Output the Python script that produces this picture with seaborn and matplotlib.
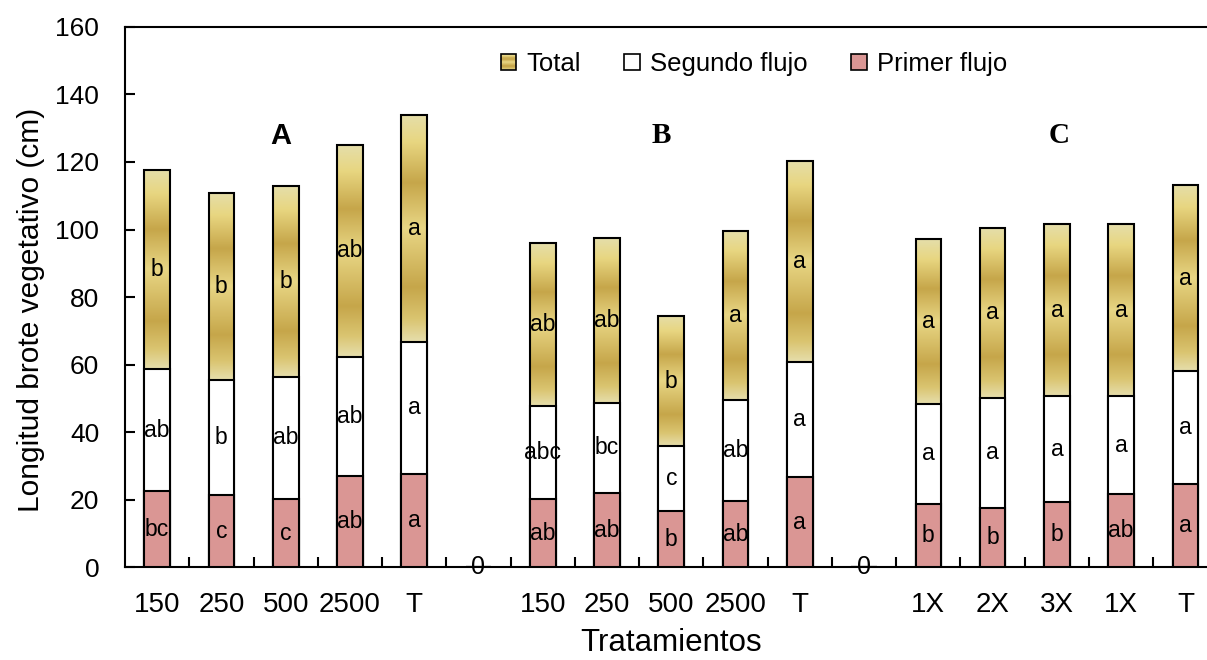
import numpy as np
import pandas as pd
import matplotlib
matplotlib.use("Agg")
import matplotlib.pyplot as plt
import seaborn as sns
from matplotlib.colors import LinearSegmentedColormap
from matplotlib.patches import Rectangle
from matplotlib.legend_handler import HandlerBase

# Tratamientos (las posiciones vacías separan los tres ensayos)
tratamientos = ["150", "250", "500", "2500", "T", "",
                "150", "250", "500", "2500", "T", "",
                "1X", "2X", "3X", "1X", "T"]
primer_flujo = [22.7, 21.5, 20.3, 27.2, 27.7, 0,
                20.3, 22.1, 16.8, 19.6, 26.7, 0,
                18.9, 17.6, 19.3, 21.6, 24.6]
segundo_flujo = [35.9, 33.9, 36.2, 35.1, 39.0, 0,
                 27.6, 26.7, 19.0, 30.0, 34.2, 0,
                 29.6, 32.6, 31.4, 29.1, 33.4]
total = [59.0, 55.4, 56.3, 62.7, 67.3, 0,
         48.0, 48.7, 38.6, 50.1, 59.5, 0,
         48.6, 50.3, 50.8, 50.8, 55.3]
letras_primer = ["bc", "c", "c", "ab", "a", "",
                 "ab", "ab", "b", "ab", "a", "",
                 "b", "b", "b", "ab", "a"]
letras_segundo = ["ab", "b", "ab", "ab", "a", "",
                  "abc", "bc", "c", "ab", "a", "",
                  "a", "a", "a", "a", "a"]
letras_total = ["b", "b", "b", "ab", "a", "",
                "ab", "ab", "b", "a", "a", "",
                "a", "a", "a", "a", "a"]
ensayos = ["A", "B", "C"]

plt.rcParams["font.family"] = ["Liberation Sans", "DejaVu Sans"]

df = pd.DataFrame({
    "pos": np.arange(len(tratamientos)),
    "primer": primer_flujo,
    "segundo": segundo_flujo,
    "total": total,
})
df["tope_segundo"] = df["primer"] + df["segundo"]
df["tope_total"] = df["tope_segundo"] + df["total"]

ROSA = "#DA9694"
ORO = "#D4BC6A"
LW = 1.5
FS_LETRA = 16.5

oro_cmap = LinearSegmentedColormap.from_list("oro", [
    (0.00, (0.898, 0.871, 0.667)),
    (0.12, (0.910, 0.840, 0.505)),
    (0.30, (0.776, 0.651, 0.290)),
    (0.50, (0.910, 0.840, 0.520)),
    (0.76, (0.776, 0.651, 0.290)),
    (0.90, (0.855, 0.770, 0.440)),
    (1.00, (0.902, 0.871, 0.675)),
])

fig = plt.figure(figsize=(12.07, 6.6), dpi=100)
ax = fig.add_axes([0.10356, 0.1402, 0.9052, 0.8193])

bar_kw = dict(x="pos", width=0.4, edgecolor="black", linewidth=LW,
              saturation=1, errorbar=None, ax=ax)

# Barra completa (segmento Total encima)
n0 = len(ax.patches)
sns.barplot(data=df, y="tope_total", color=ORO, zorder=2, **bar_kw)
barras_total = ax.patches[n0:]

# Segundo flujo y primer flujo encima
sns.barplot(data=df, y="tope_segundo", color="white", zorder=3, **bar_kw)
sns.barplot(data=df, y="primer", color=ROSA, zorder=4, **bar_kw)

# Degradado dorado del segmento Total
grad = np.linspace(0, 1, 256).reshape(-1, 1)
for i, p in enumerate(barras_total):
    if p.get_height() <= 0:
        continue
    x0, w = p.get_x(), p.get_width()
    y0, y1 = df["tope_segundo"][i], df["tope_total"][i]
    im = ax.imshow(grad, extent=(x0, x0 + w, y0, y1), origin="upper",
                   aspect="auto", cmap=oro_cmap, zorder=1.9,
                   interpolation="bilinear")
    im.set_clip_path(p)
    p.set_facecolor("none")

# Letras de significancia en cada segmento
for i in range(len(tratamientos)):
    if df["tope_total"][i] == 0:
        ax.text(i, 0, "0", ha="center", va="center", fontsize=18, zorder=6)
        continue
    p, s2, t2 = df["primer"][i], df["tope_segundo"][i], df["tope_total"][i]
    ax.text(i, p / 2, letras_primer[i], ha="center", va="center", fontsize=FS_LETRA, zorder=6)
    ax.text(i, (p + s2) / 2, letras_segundo[i], ha="center", va="center", fontsize=FS_LETRA, zorder=6)
    ax.text(i, (s2 + t2) / 2, letras_total[i], ha="center", va="center", fontsize=FS_LETRA, zorder=6)

# Nombres de los ensayos
ax.text(1.92, 127.8, ensayos[0], ha="center", va="center", fontsize=21,
        fontweight="bold", family="Liberation Sans", zorder=6)
ax.text(7.84, 127.8, ensayos[1], ha="center", va="center", fontsize=21,
        fontweight="bold", family="Liberation Serif", zorder=6)
ax.text(14.04, 127.8, ensayos[2], ha="center", va="center", fontsize=21,
        fontweight="bold", family="Liberation Serif", zorder=6)

ax.set_xlim(-0.5, len(tratamientos) - 0.5)
ax.set_ylim(0, 160)

ax.set_xticks(np.arange(len(tratamientos)))
ax.set_xticklabels(tratamientos)
ax.set_xticks(np.arange(0.5, len(tratamientos) - 0.5, 1), minor=True)
ax.tick_params(axis="x", which="major", length=0, labelsize=20, pad=18)
ax.tick_params(axis="x", which="minor", direction="in", length=7, width=LW)
ax.set_yticks(np.arange(0, 161, 20))
ax.tick_params(axis="y", direction="in", length=7, width=LW, labelsize=19, pad=18.5)
for sp in ax.spines.values():
    sp.set_linewidth(LW)
    sp.set_color("black")

ax.set_xlabel("Tratamientos", fontsize=22.5, labelpad=7)
ax.set_ylabel("Longitud brote vegetativo (cm)", fontsize=21.5)
ax.yaxis.set_label_coords(-0.0732, 0.476)


class DegradadoHandler(HandlerBase):
    def create_artists(self, legend, orig_handle, xdescent, ydescent,
                       width, height, fontsize, trans):
        n = 14
        x0, y0 = -xdescent, -ydescent
        arts = []
        for k in range(n):
            c = oro_cmap((k + 0.5) / n)
            arts.append(Rectangle((x0, y0 + height * (1 - (k + 1) / n)), width,
                                  height / n, facecolor=c, edgecolor="none",
                                  transform=trans))
        arts.append(Rectangle((x0, y0), width, height, fill=False,
                              edgecolor="black", linewidth=1.2, transform=trans))
        return arts


h_total = Rectangle((0, 0), 1, 1, facecolor=ORO, edgecolor="black", linewidth=1.2)
h_seg = Rectangle((0, 0), 1, 1, facecolor="white", edgecolor="black", linewidth=1.2)
h_pri = Rectangle((0, 0), 1, 1, facecolor=ROSA, edgecolor="black", linewidth=1.2)
ax.legend(handles=[h_total, h_seg, h_pri],
          labels=["Total", "Segundo flujo", "Primer flujo"],
          handler_map={h_total: DegradadoHandler()},
          ncol=3, frameon=False, loc="center",
          bbox_to_anchor=(0.6247, 0.903), bbox_transform=fig.transFigure,
          fontsize=18.5, handlelength=0.6, handleheight=0.6,
          handletextpad=0.4, columnspacing=1.7)

fig.savefig("out.png", dpi=100)
